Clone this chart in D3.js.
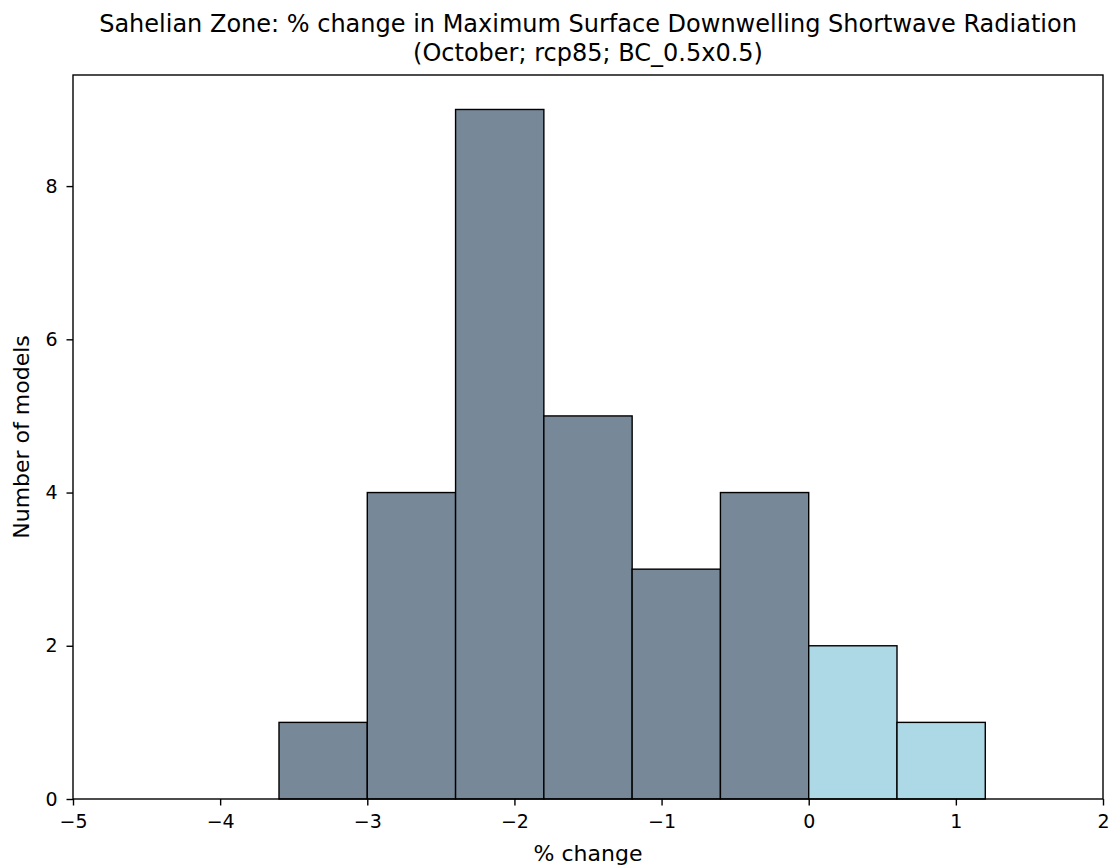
<!DOCTYPE html>
<html>
<head>
<meta charset="utf-8">
<script src="https://cdn.jsdelivr.net/npm/d3@7"></script>
<style>
  html, body { margin: 0; padding: 0; background: #fff; }
  svg text { font-family: "DejaVu Sans", sans-serif; fill: #000; }
</style>
</head>
<body>
<svg id="chart" width="1114" height="865"></svg>
<script>
// Data
const binEdges = [-3.6, -3.0, -2.4, -1.8, -1.2, -0.6, 0.0, 0.6, 1.2];
const counts   = [1, 4, 9, 5, 3, 4, 2, 1];
const xTicks = [-5, -4, -3, -2, -1, 0, 1, 2];
const yTicks = [0, 2, 4, 6, 8];
const titleLines = ["Sahelian Zone: % change in Maximum Surface Downwelling Shortwave Radiation",
                    "(October; rcp85; BC_0.5x0.5)"];
const xLabel = "% change";
const yLabel = "Number of models";

const svg = d3.select("#chart");
const L = 73, R = 1103, T = 75, B = 799;
const x = d3.scaleLinear().domain([-5, 2]).range([L, R]);
const y = d3.scaleLinear().domain([0, 9.45]).range([B, T]);

const bins = counts.map((c, i) => ({x0: binEdges[i], x1: binEdges[i+1], c}));

svg.append("g").selectAll("rect").data(bins).enter().append("rect")
  .attr("x", d => x(d.x0))
  .attr("y", d => y(d.c))
  .attr("width", d => x(d.x1) - x(d.x0))
  .attr("height", d => y(0) - y(d.c))
  .attr("fill", d => d.x0 >= 0 ? "#add8e6" : "#778899")
  .attr("stroke", "#000")
  .attr("stroke-width", 1.4);

// frame
svg.append("rect").attr("x", L).attr("y", T).attr("width", R - L).attr("height", B - T)
  .attr("fill", "none").attr("stroke", "#000").attr("stroke-width", 1.4);

const fmt = v => (v < 0 ? "\u2212" + Math.abs(v) : String(v));

const xa = svg.append("g").attr("transform", `translate(0,${B})`)
  .call(d3.axisBottom(x).tickValues(xTicks).tickFormat(fmt).tickSize(6.5).tickPadding(9));
xa.select(".domain").remove();
xa.selectAll("text").style("font-size", "19px").attr("font-family", "DejaVu Sans");
xa.selectAll("line").attr("stroke-width", 1.4);

const ya = svg.append("g").attr("transform", `translate(${L},0)`)
  .call(d3.axisLeft(y).tickValues(yTicks).tickFormat(fmt).tickSize(6.5).tickPadding(9));
ya.select(".domain").remove();
ya.selectAll("text").style("font-size", "19px").attr("font-family", "DejaVu Sans");
ya.selectAll("line").attr("stroke-width", 1.4);

svg.selectAll(".tick text").attr("fill", "#000");

svg.append("text").attr("x", (L + R) / 2).attr("y", 861).attr("text-anchor", "middle")
  .style("font-size", "22px").text(xLabel);
svg.append("text").attr("transform", `translate(29,${(T + B) / 2}) rotate(-90)`)
  .attr("text-anchor", "middle").style("font-size", "22px").text(yLabel);

titleLines.forEach((t, i) => {
  svg.append("text").attr("x", (L + R) / 2).attr("y", 32 + i * 29).attr("text-anchor", "middle")
    .style("font-size", "24px").text(t);
});
</script>
</body>
</html>
